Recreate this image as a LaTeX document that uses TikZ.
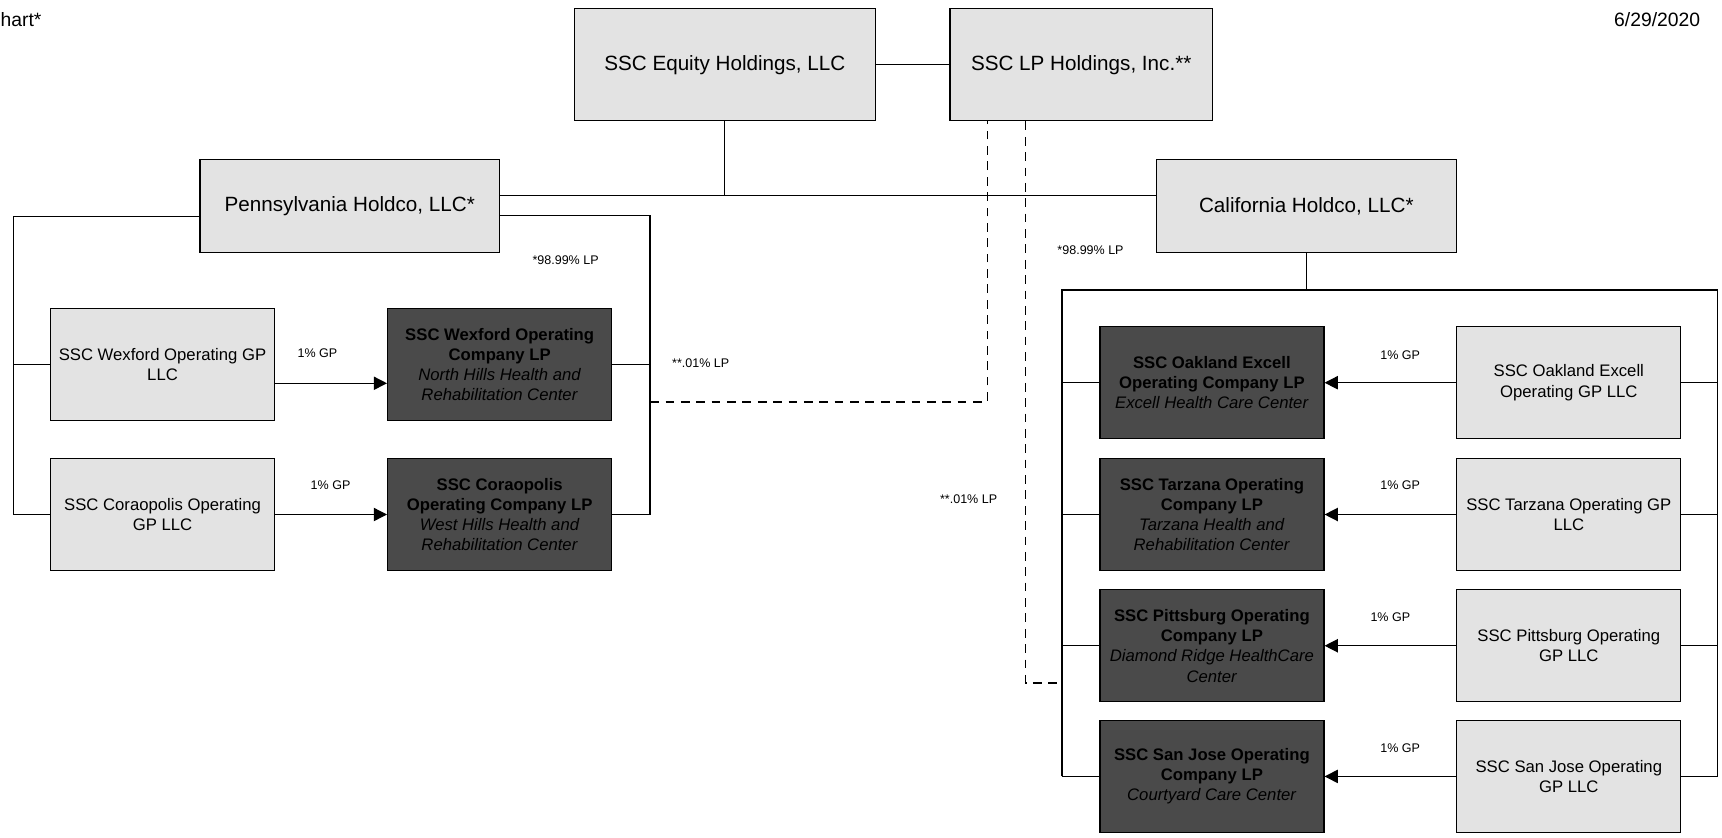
\documentclass[tikz,border=0pt]{standalone}
\usepackage{fontspec}
\setmainfont{Liberation Sans}
\usetikzlibrary{arrows.meta}
\definecolor{boxgray}{RGB}{227,227,227}
\definecolor{opgray}{RGB}{74,74,74}
\tikzset{
  holdbox/.style={draw,fill=boxgray,inner sep=0pt,font=\fontsize{9.4}{11.3}\selectfont},
  gpbox/.style={draw,fill=boxgray,minimum width=102pt,minimum height=51pt,inner sep=0pt,align=center,font=\fontsize{7.6}{9.2}\selectfont},
  opbox/.style={gpbox,fill=opgray},
  pct/.style={inner sep=0pt,font=\fontsize{5.7}{6.8}\selectfont},
  stamp/.style={inner sep=0pt,font=\fontsize{8.8}{10.5}\selectfont}
}
\begin{document}
\begin{tikzpicture}[x=0.5pt,y=-0.5pt,line width=0.6pt]
\useasboundingbox (0,0) rectangle (1568,763);
\node[stamp,anchor=west] (chart) at (0,18) {hart*};
\node[stamp] (date) at (1509,18) {6/29/2020};

\node[holdbox,minimum width=137pt,minimum height=51pt] (eq) at (660,59) {SSC Equity Holdings, LLC};
\node[holdbox,minimum width=119.5pt,minimum height=51pt] (lp) at (984.5,59) {SSC LP Holdings, Inc.**};
\node[holdbox,minimum width=136.5pt,minimum height=42.5pt] (pa) at (318.5,187.5) {Pennsylvania Holdco, LLC*};
\node[holdbox,minimum width=136.5pt,minimum height=42.5pt] (ca) at (1189.5,187.5) {California Holdco, LLC*};

\node[gpbox] (wgp) at (148,332) {SSC Wexford Operating GP\\LLC};
\node[opbox] (wop) at (455,332) {\textbf{SSC Wexford Operating}\\\textbf{Company LP}\\\textit{North Hills Health and}\\\textit{Rehabilitation Center}};
\node[gpbox] (cgp) at (148,468.5) {SSC Coraopolis Operating\\GP LLC};
\node[opbox] (cop) at (455,468.5) {\textbf{SSC Coraopolis}\\\textbf{Operating Company LP}\\\textit{West Hills Health and}\\\textit{Rehabilitation Center}};

\node[opbox] (oakop) at (1103.5,348.5) {\textbf{SSC Oakland Excell}\\\textbf{Operating Company LP}\\\textit{Excell Health Care Center}};
\node[gpbox] (oakgp) at (1428.5,348.5) {SSC Oakland Excell\\Operating GP LLC};
\node[opbox] (tarop) at (1103.5,468.5) {\textbf{SSC Tarzana Operating}\\\textbf{Company LP}\\\textit{Tarzana Health and}\\\textit{Rehabilitation Center}};
\node[gpbox] (targp) at (1428.5,468.5) {SSC Tarzana Operating GP\\LLC};
\node[opbox] (pitop) at (1103.5,588) {\textbf{SSC Pittsburg Operating}\\\textbf{Company LP}\\\textit{Diamond Ridge HealthCare}\\\textit{Center}};
\node[gpbox] (pitgp) at (1428.5,588) {SSC Pittsburg Operating\\GP LLC};
\node[opbox] (sjop) at (1103.5,707) {\textbf{SSC San Jose Operating}\\\textbf{Company LP}\\\textit{Courtyard Care Center}};
\node[gpbox] (sjgp) at (1428.5,707) {SSC San Jose Operating\\GP LLC};

\coordinate (top) at (660,178);
\coordinate (pl) at (12,197);
\coordinate (pr) at (592,196);
\coordinate (cl) at (967,264);
\coordinate (cr) at (1564,264);
\coordinate (da) at (899,366);
\coordinate (db) at (934,622);

\draw (eq) -- (lp);
\draw (eq) -- (top);
\draw (pa.east |- top) -- (ca.west |- top);
\draw (pa.west |- pl) -| (cgp.west -| pl) -- (cgp.west);
\draw (wgp.west -| pl) -- (wgp.west);
\draw (pa.east |- pr) -| (cop.east -| pr) -- (cop.east);
\draw (wop.east -| pr) -- (wop.east);
\draw[->,>={Triangle[length=6pt,width=6pt]}] ([yshift=-8.5pt]wgp.east) -- ([yshift=-8.5pt]wop.west);
\draw[->,>={Triangle[length=6pt,width=6pt]}] (cgp) -- (cop);
\node[pct] (wgpct) at (289,322) {1\% GP};
\node[pct] (cgpct) at (301,442) {1\% GP};
\node[pct] (palp) at (515,237) {*98.99\% LP};
\node[pct] (pagp) at (638,331) {**.01\% LP};

\draw[dash pattern=on 4pt off 3pt] (da -| pr) -- (da) -- (da |- lp.south);
\draw[dash pattern=on 4pt off 3pt] (db |- lp.south) -- (db) -- (db -| cl);
\node[pct] (calp) at (993,228) {*98.99\% LP};
\node[pct] (cagp) at (882,455) {**.01\% LP};

\draw (ca) -- (ca |- cl);
\draw (sjop.west -| cl) -- (cl) -- (cr) -- (sjgp.east -| cr) -- (sjgp.east);
\draw (sjop.west -| cl) -- (sjop.west);
\draw (oakop.west -| cl) -- (oakop.west);
\draw (tarop.west -| cl) -- (tarop.west);
\draw (pitop.west -| cl) -- (pitop.west);
\draw (oakgp.east) -- (oakgp.east -| cr);
\draw (targp.east) -- (targp.east -| cr);
\draw (pitgp.east) -- (pitgp.east -| cr);
\draw[->,>={Triangle[length=6pt,width=6pt]}] (oakgp) -- (oakop);
\draw[->,>={Triangle[length=6pt,width=6pt]}] (targp) -- (tarop);
\draw[->,>={Triangle[length=6pt,width=6pt]}] (pitgp) -- (pitop);
\draw[->,>={Triangle[length=6pt,width=6pt]}] (sjgp) -- (sjop);
\node[pct] (oakpct) at (1275,323) {1\% GP};
\node[pct] (tarpct) at (1275,442) {1\% GP};
\node[pct] (pitpct) at (1266,562) {1\% GP};
\node[pct] (sjpct) at (1275,681) {1\% GP};
\end{tikzpicture}
\end{document}
